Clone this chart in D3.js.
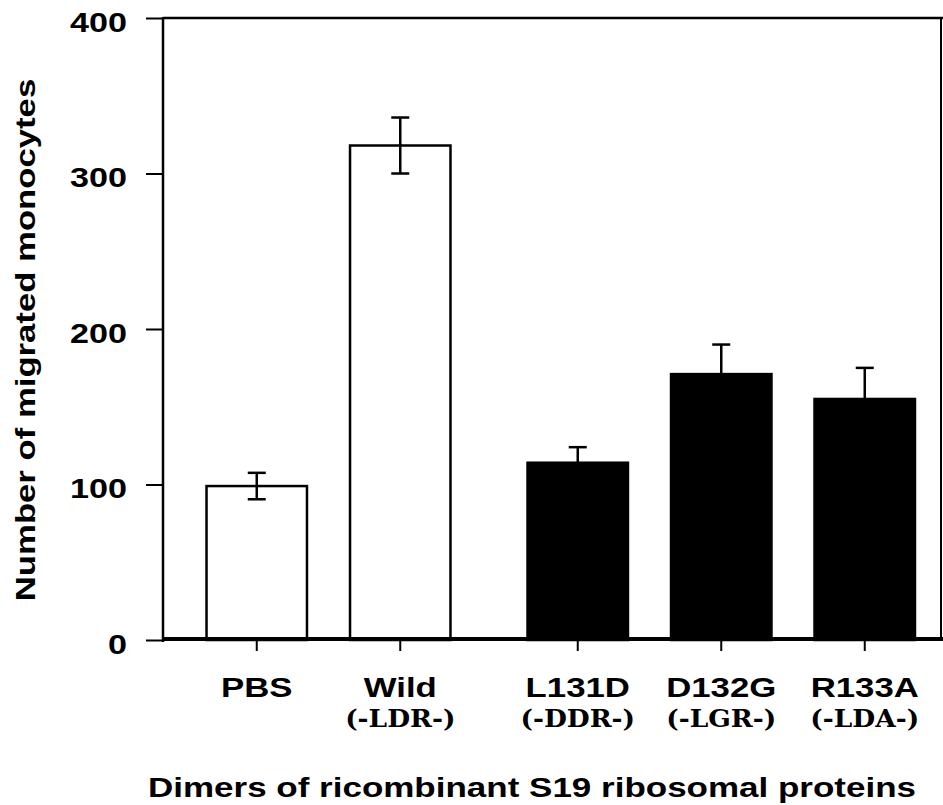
<!DOCTYPE html>
<html>
<head>
<meta charset="utf-8">
<script src="https://cdn.jsdelivr.net/npm/d3@7"></script>
<style>
  html, body { margin: 0; padding: 0; background: #fff; }
  svg { display: block; }
</style>
</head>
<body>
<svg id="chart" width="943" height="805"></svg>
<script>
// ---- data ----
const categories = ["PBS", "Wild", "L131D", "D132G", "R133A"];
const sequences  = ["", "(-LDR-)", "(-DDR-)", "(-LGR-)", "(-LDA-)"];
const groups     = ["control", "control", "mutant", "mutant", "mutant"];
const means      = [99, 318, 114, 171, 155];
const errors     = [8.5, 18, 10, 19, 20];
const yTicks     = [0, 100, 200, 300, 400];
const yTitle     = "Number of migrated monocytes";
const xTitle     = "Dimers of ricombinant S19 ribosomal proteins";

// ---- layout ----
const svg = d3.select("#chart");
const plotLeft = 163, plotTop = 18, plotBottom = 640, plotRight = 941;
const sansFont = "'Liberation Sans', Arial, Helvetica, sans-serif";
const serifFont = "'DejaVu Serif', serif";
const stretch = 1.22;
const groupGap = 34;

const y = d3.scaleLinear().domain([0, 400]).range([plotBottom, plotTop]);
const x = d3.scaleBand().domain(categories).range([185, 902.5])
  .paddingInner(0.3).paddingOuter(0.15);
const bw = x.bandwidth();
const cx = (c, i) => x(c) + bw / 2 + (groups[i] === "mutant" ? groupGap : 0);

const data = categories.map((c, i) => ({
  c, i, seq: sequences[i], group: groups[i], mean: means[i], err: errors[i]
}));

function stxt(sel, tx, ty, str, opts) {
  return sel.append("text")
    .attr("transform", `translate(${tx},${ty}) ${opts.rotate ? "rotate(" + opts.rotate + ")" : ""} scale(${opts.sx || 1},1)`)
    .attr("text-anchor", opts.anchor || "middle")
    .attr("font-family", opts.family || sansFont)
    .attr("font-weight", opts.weight || "bold")
    .attr("font-size", opts.size)
    .attr("fill", "#000")
    .text(str);
}

// frame: top and right borders
svg.append("line").attr("x1", plotLeft).attr("x2", 943).attr("y1", plotTop).attr("y2", plotTop)
  .attr("stroke", "#000").attr("stroke-width", 2.5);
svg.append("line").attr("x1", plotRight).attr("x2", plotRight).attr("y1", plotTop).attr("y2", plotBottom)
  .attr("stroke", "#000").attr("stroke-width", 2);

// bars
svg.append("g").selectAll("rect").data(data).join("rect")
  .attr("x", d => cx(d.c, d.i) - bw / 2)
  .attr("width", bw)
  .attr("y", d => y(d.mean))
  .attr("height", d => y(0) - y(d.mean))
  .attr("fill", d => d.group === "mutant" ? "#000" : "#fff")
  .attr("stroke", "#000").attr("stroke-width", 2.5);

// error bars
const eb = svg.append("g").attr("stroke", "#000").attr("stroke-width", 2.5);
data.forEach(d => {
  const xc = cx(d.c, d.i);
  eb.append("line").attr("x1", xc).attr("x2", xc)
    .attr("y1", y(d.mean + d.err)).attr("y2", y(d.mean - d.err));
  [d.mean + d.err, d.mean - d.err].forEach(v => {
    eb.append("line").attr("x1", xc - 9).attr("x2", xc + 9)
      .attr("y1", y(v)).attr("y2", y(v));
  });
});

// y axis
const yAxis = d3.axisLeft(y).tickValues(yTicks).tickSize(17).tickPadding(0).tickFormat(d3.format("d"));
const yg = svg.append("g").attr("transform", `translate(${plotLeft},0)`).call(yAxis);
yg.select(".domain").remove();
yg.selectAll(".tick line").attr("stroke", "#000").attr("stroke-width", 2);
yg.selectAll(".tick text")
  .attr("x", -36 / stretch)
  .attr("dy", "0.48em")
  .attr("transform", `scale(${stretch},1)`)
  .attr("font-family", sansFont).attr("font-weight", "bold")
  .attr("font-size", 28).attr("fill", "#000");
svg.append("line").attr("x1", plotLeft).attr("x2", plotLeft).attr("y1", plotTop - 1).attr("y2", plotBottom + 2)
  .attr("stroke", "#000").attr("stroke-width", 2.5);

// baseline (x axis)
svg.append("line").attr("x1", plotLeft).attr("x2", 943).attr("y1", plotBottom - 1).attr("y2", plotBottom - 1)
  .attr("stroke", "#000").attr("stroke-width", 4);
// x ticks
svg.append("g").selectAll("line").data(data).join("line")
  .attr("x1", d => cx(d.c, d.i)).attr("x2", d => cx(d.c, d.i))
  .attr("y1", plotBottom).attr("y2", plotBottom + 11)
  .attr("stroke", "#000").attr("stroke-width", 2);

// category labels
const lab = svg.append("g");
data.forEach(d => {
  const xc = cx(d.c, d.i);
  stxt(lab, xc, 697, d.c, { size: 28.5, sx: stretch });
  if (d.seq) stxt(lab, xc, 727, d.seq, { size: 24, sx: 1.1, family: serifFont });
});

// axis titles
stxt(svg, 35, 340, yTitle, { size: 28, sx: 1.24, rotate: -90 });
stxt(svg, 532, 797, xTitle, { size: 28, sx: 1.25 });
</script>
</body>
</html>
